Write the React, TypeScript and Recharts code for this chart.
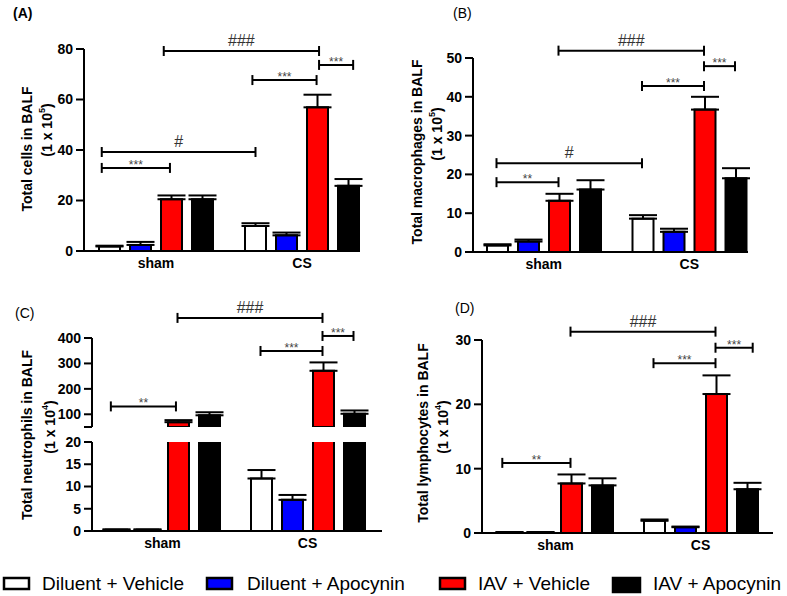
import React from 'react';
import { BarChart, Bar, XAxis, YAxis, ErrorBar } from 'recharts';

const FONT = "'Liberation Sans', Arial, sans-serif";

const categories = ['sham', 'CS'];
const seriesNames = ['Diluent + Vehicle', 'Diluent + Apocynin', 'IAV + Vehicle', 'IAV + Apocynin'];
const seriesFills = ['#ffffff', '#0000ff', '#ff0000', '#000000'];

// (A) Total cells in BALF (1 x 10^5)
const cellsDilVeh = [1.8, 9.9];
const cellsDilVehSem = [0.3, 1.1];
const cellsDilApo = [2.4, 6.2];
const cellsDilApoSem = [1.2, 1.1];
const cellsIavVeh = [20.5, 56.9];
const cellsIavVehSem = [1.5, 5.0];
const cellsIavApo = [20.5, 25.8];
const cellsIavApoSem = [1.5, 2.7];
const cellsTicks = [0, 20, 40, 60, 80];

// (B) Total macrophages in BALF (1 x 10^5)
const macDilVeh = [1.7, 8.6];
const macDilVehSem = [0.3, 0.9];
const macDilApo = [2.7, 5.2];
const macDilApoSem = [0.5, 0.8];
const macIavVeh = [13.2, 36.7];
const macIavVehSem = [1.8, 3.3];
const macIavApo = [16.1, 19.0];
const macIavApoSem = [2.4, 2.6];
const macTicks = [0, 10, 20, 30, 40, 50];

// (C) Total neutrophils in BALF (1 x 10^4)
const neuDilVeh = [0.3, 11.8];
const neuDilVehSem = [0.05, 1.9];
const neuDilApo = [0.3, 7.0];
const neuDilApoSem = [0.05, 1.1];
const neuIavVeh = [69, 271];
const neuIavVehSem = [8, 33];
const neuIavApo = [96, 102];
const neuIavApoSem = [12, 13];
const neuTicksHigh = [50, 100, 200, 300, 400];
const neuTicksLow = [0, 5, 10, 15, 20];

// (D) Total lymphocytes in BALF (1 x 10^4)
const lymDilVeh = [0.1, 1.9];
const lymDilVehSem = [0.05, 0.2];
const lymDilApo = [0.1, 0.9];
const lymDilApoSem = [0.05, 0.1];
const lymIavVeh = [7.7, 21.6];
const lymIavVehSem = [1.4, 2.9];
const lymIavApo = [7.4, 6.8];
const lymIavApoSem = [1.1, 1.0];
const lymTicks = [0, 10, 20, 30];

function buildRows(means: number[][], sems: number[][]) {
  return categories.map((cat, i) => {
    const row: any = { cat };
    means.forEach((m, s) => {
      row['s' + s] = m[i];
      row['e' + s] = [0, sems[s][i]];
    });
    return row;
  });
}

const rowsA = buildRows([cellsDilVeh, cellsDilApo, cellsIavVeh, cellsIavApo], [cellsDilVehSem, cellsDilApoSem, cellsIavVehSem, cellsIavApoSem]);
const rowsB = buildRows([macDilVeh, macDilApo, macIavVeh, macIavApo], [macDilVehSem, macDilApoSem, macIavVehSem, macIavApoSem]);
const rowsC = buildRows([neuDilVeh, neuDilApo, neuIavVeh, neuIavApo], [neuDilVehSem, neuDilApoSem, neuIavVehSem, neuIavApoSem]);
const rowsD = buildRows([lymDilVeh, lymDilApo, lymIavVeh, lymIavApo], [lymDilVehSem, lymDilApoSem, lymIavVehSem, lymIavApoSem]);

const BAR = 21;
const GAP = 10;

type Geo = {
  left: number; top: number; width: number; height: number;
  yW: number; mTop: number; mRight: number; mBottom: number; xH: number;
  padL: number; padR: number; domain: [number, number]; ticks: number[];
  showX: boolean; overflow: boolean; visible: number[]; hideTick?: number;
};

const geoA: Geo = { left: 0, top: 0, width: 390, height: 280, yW: 84, mTop: 49, mRight: 32, mBottom: 0, xH: 29, padL: -1, padR: -17, domain: [0, 80], ticks: cellsTicks, showX: true, overflow: false, visible: [0, 1, 2, 3] };
const geoB: Geo = { left: 390, top: 0, width: 397, height: 280, yW: 83, mTop: 58, mRight: 39, mBottom: 0, xH: 28, padL: -2, padR: -14, domain: [0, 50], ticks: macTicks, showX: true, overflow: false, visible: [0, 1, 2, 3] };
const geoCHigh: Geo = { left: 0, top: 280, width: 390, height: 150, yW: 92, mTop: 58, mRight: 8, mBottom: 3, xH: 0, padL: -2, padR: 2, domain: [50, 400], ticks: neuTicksHigh, showX: false, overflow: true, visible: [2, 3], hideTick: 50 };
const geoCLow: Geo = { left: 0, top: 280, width: 390, height: 280, yW: 92, mTop: 162, mRight: 8, mBottom: 0, xH: 29, padL: -2, padR: 2, domain: [0, 20], ticks: neuTicksLow, showX: true, overflow: true, visible: [0, 1, 2, 3] };
const geoD: Geo = { left: 390, top: 280, width: 397, height: 280, yW: 92, mTop: 60, mRight: 14, mBottom: 0, xH: 27, padL: 1, padR: 0, domain: [0, 30], ticks: lymTicks, showX: true, overflow: false, visible: [0, 1, 2, 3] };

const axisStyle = { stroke: '#000', strokeWidth: 2 };

function Panel({ g, rows }: { g: Geo; rows: any[] }) {
  const [d0, d1] = g.domain;
  return (
    <div style={{ position: 'absolute', left: g.left, top: g.top }}>
      <BarChart width={g.width} height={g.height} data={rows} margin={{ top: g.mTop, right: g.mRight, bottom: g.mBottom, left: 0 }} barSize={BAR} barGap={GAP}>
        <XAxis
          dataKey="cat"
          hide={!g.showX}
          height={g.xH}
          padding={{ left: g.padL, right: g.padR }}
          axisLine={axisStyle}
          tickLine={false}
          tickSize={6}
          tickMargin={1}
          interval={0}
          tick={{ fill: '#000', fontSize: 14, fontWeight: 'bold', fontFamily: FONT }}
        />
        <YAxis
          type="number"
          width={g.yW}
          domain={g.domain}
          ticks={g.ticks}
          allowDataOverflow={g.overflow}
          axisLine={axisStyle}
          tickLine={axisStyle}
          tickSize={8}
          tickMargin={3}
          interval={0}
          tickFormatter={(v: number) => (v === g.hideTick ? '' : String(v))}
          tick={{ fill: '#000', fontSize: 14, fontWeight: 'bold', fontFamily: FONT }}
        />
        {[0, 1, 2, 3].map((s) => {
          const vis = g.visible.includes(s);
          // error bars only for bars whose top lies inside this axis segment
          const showErr = vis && rows.every((r) => r['s' + s] >= d0 && r['s' + s] <= d1);
          return (
            <Bar key={s} dataKey={'s' + s} name={seriesNames[s]} fill={vis ? seriesFills[s] : 'none'} stroke={vis ? '#000' : 'none'} strokeWidth={2} isAnimationActive={false}>
              {showErr ? (
                <ErrorBar dataKey={'e' + s} width={14} stroke="#000" strokeWidth={2} direction="y" isAnimationActive={false} />
              ) : null}
            </Bar>
          );
        })}
      </BarChart>
    </div>
  );
}

function barX(g: Geo, grp: number, b: number) {
  const x0 = g.left + g.yW + g.padL;
  const x1 = g.left + g.width - g.mRight - g.padR;
  const band = (x1 - x0) / categories.length;
  const off = ((band - (BAR * 4 + GAP * 3)) / 2) >> 0;
  return x0 + grp * band + off + b * (BAR + GAP) + BAR / 2;
}
function valY(g: Geo, v: number) {
  const y0 = g.top + g.mTop;
  const h = g.height - g.mTop - g.mBottom - (g.showX ? g.xH : 0);
  return y0 + h * (1 - (v - g.domain[0]) / (g.domain[1] - g.domain[0]));
}

type Sig = { g1: number; b1: number; g2: number; b2: number; v: number; label: string };

const sigA: Sig[] = [
  { g1: 0, b1: 1.75, g2: 1, b2: 2.05, v: 79.2, label: '###' },
  { g1: 1, b1: 2.05, g2: 1, b2: 3.15, v: 73.7, label: '***' },
  { g1: 1, b1: -0.1, g2: 1, b2: 1.97, v: 67.7, label: '***' },
  { g1: 0, b1: -0.25, g2: 1, b2: 0, v: 39.2, label: '#' },
  { g1: 0, b1: -0.25, g2: 0, b2: 1.95, v: 32.9, label: '***' },
];
const sigB: Sig[] = [
  { g1: 0, b1: 2, g2: 1, b2: 2, v: 51.9, label: '###' },
  { g1: 1, b1: 2, g2: 1, b2: 3, v: 47.9, label: '***' },
  { g1: 1, b1: 0, g2: 1, b2: 2, v: 42.8, label: '***' },
  { g1: 0, b1: 0, g2: 1, b2: 0, v: 22.9, label: '#' },
  { g1: 0, b1: 0, g2: 0, b2: 2, v: 18.0, label: '**' },
];
const sigC: Sig[] = [
  { g1: 0, b1: 2, g2: 1, b2: 2, v: 479, label: '###' },
  { g1: 1, b1: 2, g2: 1, b2: 3, v: 408, label: '***' },
  { g1: 1, b1: 0, g2: 1, b2: 2, v: 349, label: '***' },
  { g1: 0, b1: -0.15, g2: 0, b2: 1.95, v: 131, label: '**' },
];
const sigD: Sig[] = [
  { g1: 0, b1: 2, g2: 1, b2: 2, v: 31.3, label: '###' },
  { g1: 1, b1: 2, g2: 1, b2: 3.2, v: 28.8, label: '***' },
  { g1: 1, b1: 0, g2: 1, b2: 2, v: 26.4, label: '***' },
  { g1: 0, b1: -0.2, g2: 0, b2: 2, v: 10.9, label: '**' },
];

function Brackets({ g, sigs }: { g: Geo; sigs: Sig[] }) {
  return (
    <g>
      {sigs.map((s, i) => {
        const x1 = barX(g, s.g1, s.b1);
        const x2 = barX(g, s.g2, s.b2);
        const y = valY(g, s.v);
        const hash = s.label.startsWith('#');
        return (
          <g key={i}>
            <line x1={x1} x2={x2} y1={y} y2={y} stroke="#000" strokeWidth={2} />
            <line x1={x1} x2={x1} y1={y - 5} y2={y + 5} stroke="#000" strokeWidth={2} />
            <line x1={x2} x2={x2} y1={y - 5} y2={y + 5} stroke="#000" strokeWidth={2} />
            {hash ? (
              <text x={(x1 + x2) / 2} y={y - 5} textAnchor="middle" fontSize={16} fill="#333" fontFamily={FONT}>{s.label}</text>
            ) : (
              <text x={(x1 + x2) / 2} y={y + 1} textAnchor="middle" fontSize={12} fill="#444" fontFamily={FONT}>{s.label}</text>
            )}
          </g>
        );
      })}
    </g>
  );
}

function YLabel({ x1, c1, x2, c2, text, exp }: { x1: number; c1: number; x2: number; c2: number; text: string; exp: string }) {
  return (
    <g fontFamily={FONT} fontWeight="bold" fontSize={14} fill="#000">
      <text transform={`translate(${x1},${c1}) rotate(-90)`} textAnchor="middle" dominantBaseline="central">{text}</text>
      <text transform={`translate(${x2},${c2}) rotate(-90)`} textAnchor="middle" dominantBaseline="central">
        (1 x 10<tspan dy={-5} fontSize={9}>{exp}</tspan><tspan dy={5}>)</tspan>
      </text>
    </g>
  );
}

const legendBoxX = [4, 207, 440, 613];
const legendTextX = [42, 247, 478, 653];

export default function App() {
  return (
    <div style={{ position: 'absolute', left: 0, top: 0, width: 787, height: 596, background: '#fff', overflow: 'hidden' }}>
      <Panel g={geoA} rows={rowsA} />
      <Panel g={geoB} rows={rowsB} />
      <Panel g={geoCHigh} rows={rowsC} />
      <Panel g={geoCLow} rows={rowsC} />
      <Panel g={geoD} rows={rowsD} />
      <svg width={787} height={596} style={{ position: 'absolute', left: 0, top: 0, pointerEvents: 'none' }}>
        <text x={13} y={18} fontFamily={FONT} fontSize={14} fontWeight="bold">(A)</text>
        <text x={453} y={18} fontFamily={FONT} fontSize={14}>(B)</text>
        <text x={15} y={318} fontFamily={FONT} fontSize={14}>(C)</text>
        <text x={455} y={313} fontFamily={FONT} fontSize={14}>(D)</text>
        <YLabel x1={27} c1={149} x2={47} c2={130} text="Total cells in BALF" exp="5" />
        <YLabel x1={417} c1={152} x2={437} c2={134} text="Total macrophages in BALF" exp="5" />
        <YLabel x1={27} c1={435} x2={50} c2={427} text="Total neutrophils in BALF" exp="4" />
        <YLabel x1={423} c1={433} x2={443} c2={427} text="Total lymphocytes in BALF" exp="4" />
        <Brackets g={geoA} sigs={sigA} />
        <Brackets g={geoB} sigs={sigB} />
        <Brackets g={geoCHigh} sigs={sigC} />
        <Brackets g={geoD} sigs={sigD} />
        {seriesNames.map((n, i) => (
          <g key={n}>
            <rect x={legendBoxX[i]} y={578} width={i === 3 ? 27 : 25} height={i === 3 ? 14 : 11} fill={seriesFills[i]} stroke="#000" strokeWidth={2.5} />
            <text x={legendTextX[i]} y={590} fontFamily={FONT} fontSize={19} fill="#000">{n}</text>
          </g>
        ))}
      </svg>
    </div>
  );
}
